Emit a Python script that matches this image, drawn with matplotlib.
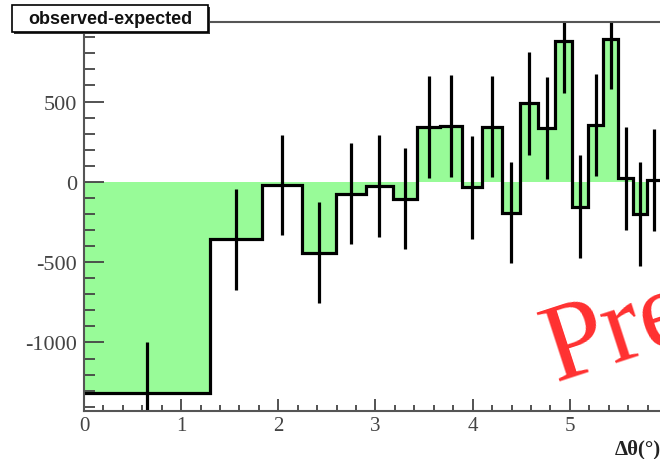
import numpy as np
import matplotlib
matplotlib.use("Agg")
import matplotlib.pyplot as plt
from matplotlib.patches import Rectangle
from matplotlib.ticker import MultipleLocator

plt.rcParams['axes.unicode_minus'] = False

# bin edges in delta-theta (deg)
edges = [0.0, 1.296, 1.833, 2.245, 2.592, 2.898, 3.175, 3.429, 3.666, 3.888,
         4.099, 4.299, 4.490, 4.673, 4.850, 5.020, 5.185, 5.344, 5.499, 5.650,
         5.797, 5.940]
# observed - expected per bin
values = [-1316, -358, -19, -441, -73, -25, -104, 344, 350, -35, 344,
          -191, 490, 336, 875, -154, 356, 887, 21, -198, 10]
errors = [316, 315, 310, 313, 315, 316, 313, 318, 318, 319, 314,
          315, 320, 318, 321, 318, 318, 312, 318, 323, 316]

edges = np.array(edges)
centers = 0.5 * (edges[:-1] + edges[1:])

W, H = 660, 460
fig = plt.figure(figsize=(W / 100, H / 100), dpi=100)
ax = fig.add_axes([84 / W, (H - 411.7) / H, (667 - 84) / W, (411.7 - 22.7) / H])

ax.stairs(values, edges, baseline=0, fill=True, color='palegreen', lw=0)
ax.stairs(values, edges, baseline=None, color='black', lw=2.3)
ax.errorbar(centers, values, yerr=errors, fmt='none', ecolor='black',
            elinewidth=2.3, capsize=0)

ax.set_xlim(0, 6)
ax.set_ylim(-1425, 997)

serif = 'Liberation Serif'
ax.xaxis.set_major_locator(MultipleLocator(1))
ax.xaxis.set_minor_locator(MultipleLocator(0.2))
ax.yaxis.set_major_locator(MultipleLocator(500))
ax.yaxis.set_minor_locator(MultipleLocator(100))
ax.tick_params(which='both', direction='in', color='#444', width=1.3,
               labelcolor='#444')
ax.tick_params(axis='x', which='major', length=8.6, pad=4, labelsize=15)
ax.tick_params(axis='x', which='minor', length=4)
ax.tick_params(axis='y', which='major', length=14.4, pad=5, labelsize=16)
ax.tick_params(axis='y', which='minor', length=7.7)
for lab in ax.get_xticklabels() + ax.get_yticklabels():
    lab.set_fontfamily(serif)

for s in ['left', 'bottom', 'top']:
    ax.spines[s].set_color('#555')
    ax.spines[s].set_linewidth(1.5)
ax.spines['right'].set_visible(False)

# x axis title, right aligned at the edge
fig.text(661 / W, (H - 449) / H, 'Δθ(°)', ha='right', va='center',
         fontsize=15, fontweight='bold', family=serif, color='#222')

# watermark
fig.text(556 / W, (H - 381) / H, 'Preliminary', rotation=18,
         rotation_mode='anchor', ha='left', va='baseline',
         fontsize=80, family=serif, color='#ff3030')

# title box with shadow
fig.patches.append(Rectangle((14 / W, (H - 35) / H), 196 / W, 27 / H,
                             transform=fig.transFigure, facecolor='#333',
                             edgecolor='none', zorder=5))
fig.patches.append(Rectangle((12 / W, (H - 33) / H), 196 / W, 27 / H,
                             transform=fig.transFigure, facecolor='white',
                             edgecolor='black', lw=1.2, zorder=6))
fig.text(110 / W, (H - 19.5) / H, 'observed-expected', ha='center',
         va='center', fontsize=13, fontweight='bold',
         family='Liberation Sans', color='#111', zorder=7)

fig.savefig('out.png', dpi=100)
